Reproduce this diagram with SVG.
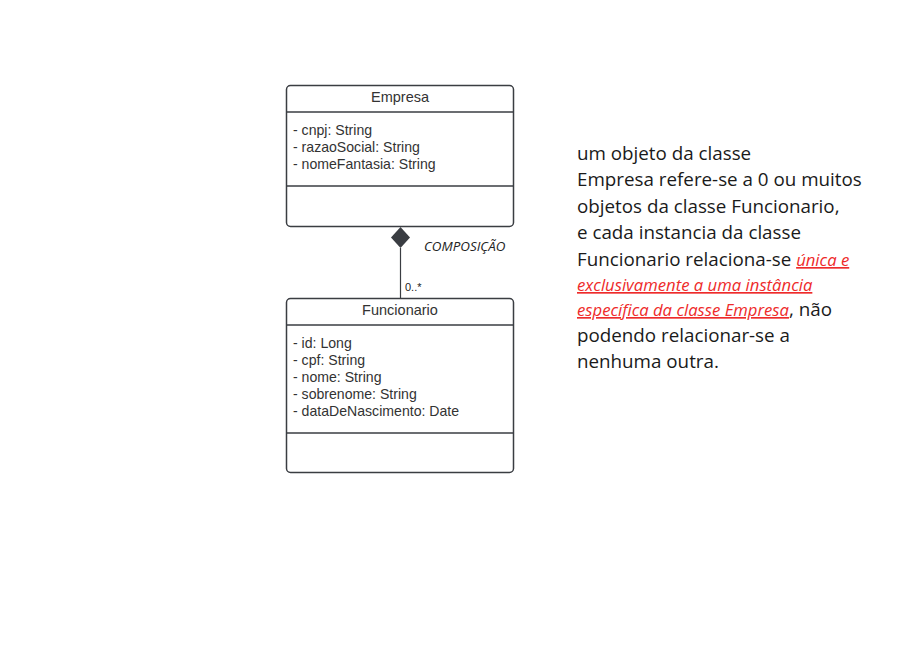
<svg xmlns="http://www.w3.org/2000/svg" width="898" height="665" viewBox="0 0 898 665">
<style>
.box{fill:#fff;stroke:#3a3d42;stroke-width:1.5}
.sep{stroke:#3a3d42;stroke-width:1.5}
.title{font-family:"Liberation Sans",Arial,sans-serif;font-size:14.5px;fill:#333;text-anchor:middle}
.attr{font-family:"Liberation Sans",Arial,sans-serif;font-size:14.1px;fill:#333}
.lbl{font-family:"Open Sans","Noto Sans",sans-serif;font-size:13.4px;font-style:italic;fill:#222}
.mult{font-family:"Liberation Sans",Arial,sans-serif;font-size:11px;fill:#222}
.note{font-family:"Open Sans","Noto Sans",sans-serif;font-size:18.8px;fill:#1a1a1a}
.red{fill:#ee2b2b;font-style:italic;font-size:16.7px;text-decoration:underline}
</style>
<rect width="898" height="665" fill="#fff"/>
<g id="connectors">
<line x1="400.5" y1="248" x2="400.5" y2="298" stroke="#3a3d42" stroke-width="1.2"/>
<polygon points="400.5,227 410,237.5 400.5,248 391,237.5" fill="#3a3d42"/>
<text class="lbl" x="424" y="251">COMPOSIÇÃO</text>
<text class="mult" x="405" y="291">0..*</text>
</g>
<g id="empresa">
<rect class="box" x="286.5" y="85.5" width="227" height="141" rx="4"/>
<line class="sep" x1="286.5" y1="112" x2="513.5" y2="112"/>
<line class="sep" x1="286.5" y1="186" x2="513.5" y2="186"/>
<text class="title" x="400" y="102">Empresa</text>
<text class="attr" x="293" y="135">- cnpj: String</text>
<text class="attr" x="293" y="152">- razaoSocial: String</text>
<text class="attr" x="293" y="169">- nomeFantasia: String</text>
</g>
<g id="funcionario">
<rect class="box" x="286.5" y="298.5" width="227" height="174" rx="4"/>
<line class="sep" x1="286.5" y1="325" x2="513.5" y2="325"/>
<line class="sep" x1="286.5" y1="433" x2="513.5" y2="433"/>
<text class="title" x="400" y="315">Funcionario</text>
<text class="attr" x="293" y="348">- id: Long</text>
<text class="attr" x="293" y="365">- cpf: String</text>
<text class="attr" x="293" y="382">- nome: String</text>
<text class="attr" x="293" y="399">- sobrenome: String</text>
<text class="attr" x="293" y="416">- dataDeNascimento: Date</text>
</g>
<g id="note">
<text class="note" x="577" y="160">um objeto da classe</text>
<text class="note" x="577" y="186">Empresa refere-se a 0 ou muitos</text>
<text class="note" x="577" y="213">objetos da classe Funcionario,</text>
<text class="note" x="577" y="239">e cada instancia da classe</text>
<text class="note" x="577" y="266">Funcionario relaciona-se <tspan class="red">única e</tspan></text>
<text class="note red" x="577" y="291">exclusivamente a uma instância</text>
<text class="note" x="577" y="316"><tspan class="red">específica da classe Empresa</tspan>, não</text>
<text class="note" x="577" y="342">podendo relacionar-se a</text>
<text class="note" x="577" y="368">nenhuma outra.</text>
</g>
</svg>
